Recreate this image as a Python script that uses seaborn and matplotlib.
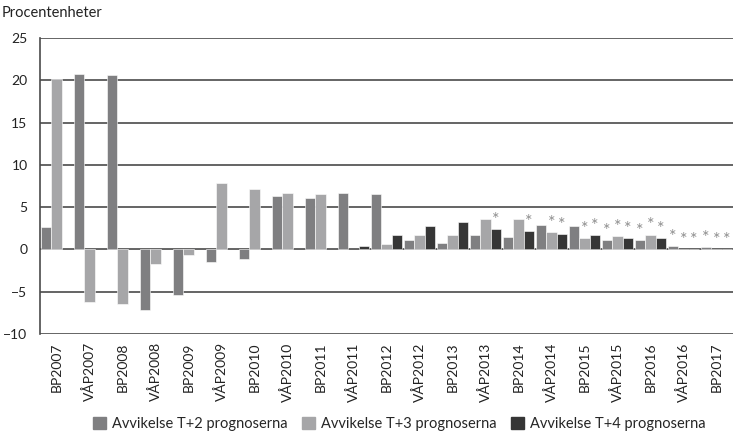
import numpy as np
import pandas as pd
import matplotlib
matplotlib.use("Agg")
import matplotlib.pyplot as plt
import seaborn as sns

categories = ["BP2007", "VÅP2007", "BP2008", "VÅP2008", "BP2009", "VÅP2009",
              "BP2010", "VÅP2010", "BP2011", "VÅP2011", "BP2012", "VÅP2012",
              "BP2013", "VÅP2013", "BP2014", "VÅP2014", "BP2015", "VÅP2015",
              "BP2016", "VÅP2016", "BP2017"]
nan = np.nan
t2 = [2.6, 20.8, 20.6, -7.2, -5.4, -1.5, -1.1, 6.3, 6.1, 6.7, 6.5, 1.15,
      0.75, 1.7, 1.5, 2.9, 2.75, 1.1, 1.1, 0.4, 0.25]
t3 = [20.1, -6.2, -6.5, -1.7, -0.6, 7.8, 7.2, 6.7, 6.5, nan, 0.6, 1.7,
      1.7, 3.65, 3.65, 2.05, 1.3, 1.55, 1.75, 0.0, 0.0]
t4 = [nan, nan, nan, nan, nan, nan, nan, nan, nan, 0.4, 1.7, 2.75,
      3.25, 2.4, 2.2, 1.85, 1.7, 1.3, 1.35, 0.0, 0.0]
series = ["Avvikelse T+2 prognoserna", "Avvikelse T+3 prognoserna",
          "Avvikelse T+4 prognoserna"]
# bars marked with an asterisk in the original
stars_t2 = ["VÅP2015", "BP2016", "VÅP2016", "BP2017"]
stars_t3 = ["VÅP2014", "BP2015", "VÅP2015", "BP2016", "VÅP2016", "BP2017"]
stars_t4 = ["VÅP2013", "BP2014", "VÅP2014", "BP2015", "VÅP2015", "BP2016",
            "VÅP2016", "BP2017"]

colors = ["#7f7f81", "#a6a6a8", "#363636"]

rows = []
for name, vals in zip(series, [t2, t3, t4]):
    for c, v in zip(categories, vals):
        rows.append({"kategori": c, "serie": name, "varde": v})
df = pd.DataFrame(rows).dropna()

sns.set_style("white")
plt.rcParams["font.family"] = ["Lato", "DejaVu Sans"]

fig = plt.figure(figsize=(7.33, 4.33), dpi=100)
ax = fig.add_axes([40 / 733, 1 - 334 / 433, 693 / 733, 296 / 433])

sns.barplot(data=df, x="kategori", y="varde", hue="serie", order=categories,
            hue_order=series, palette=colors, width=0.94, gap=0,
            edgecolor="white", linewidth=0.4, ax=ax, legend=False, zorder=3)

ax.set_ylim(-10, 25)
ax.set_yticks(range(-10, 30, 5))
ax.set_xlim(-0.5, len(categories) - 0.5)
for y in range(-10, 30, 5):
    ax.axhline(y, color="#4a4a4a", lw=1.2, zorder=2)
for s in ["top", "right", "bottom"]:
    ax.spines[s].set_visible(False)
ax.spines["left"].set_color("#4a4a4a")
ax.spines["left"].set_linewidth(1.2)
ax.tick_params(axis="y", length=5, color="#4a4a4a", width=1.2, labelsize=10,
               pad=4, labelcolor="#222222")
ax.tick_params(axis="x", length=0, labelsize=10, pad=6, labelcolor="#222222")
plt.setp(ax.get_xticklabels(), rotation=90)
ax.set_xlabel("")
ax.set_ylabel("")

# asterisks above flagged bars
for cont, flagged in zip(ax.containers, [stars_t2, stars_t3, stars_t4]):
    for p in cont.patches:
        h = p.get_height()
        if np.isnan(h):
            continue
        xc = p.get_x() + p.get_width() / 2
        idx = int(round(xc))
        if categories[idx] in flagged:
            ax.text(xc, max(h, 0) + 0.15, "*", ha="center", va="bottom",
                    fontsize=13, color="#8f8f8f", zorder=4)

fig.text(0.002, 0.985, "Procentenheter", ha="left", va="top", fontsize=10.5,
         color="#222222")

handles = [plt.Rectangle((0, 0), 1, 1, color=c) for c in colors]
fig.legend(handles, series, loc="lower center", bbox_to_anchor=(0.545, -0.025),
           ncol=3, frameon=False, fontsize=10.5, handlelength=0.9,
           handleheight=0.9, handletextpad=0.4, columnspacing=1.0)

fig.savefig("out.png", dpi=100)
